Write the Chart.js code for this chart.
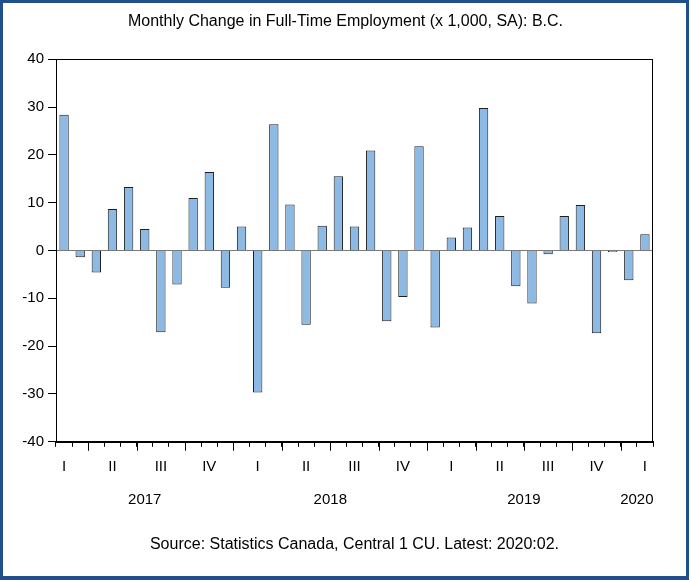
<!DOCTYPE html>
<html>
<head>
<meta charset="utf-8">
<script src="https://cdn.jsdelivr.net/npm/chart.js@4/dist/chart.umd.min.js"></script>
<style>
  html, body { margin: 0; padding: 0; background: #fff; }
  #wrap { position: relative; width: 691px; height: 581px; }
  #frame { position: absolute; left: 0; top: 0; width: 689px; height: 580px; box-sizing: border-box;
           border: 3px solid #214f8b; border-bottom-width: 4px; pointer-events: none; }
  canvas { position: absolute; left: 0; top: 0; }
</style>
</head>
<body>
<div id="wrap">
  <canvas id="c" width="691" height="581"></canvas>
  <div id="frame"></div>
</div>
<script>
// ---- data ----
const titleText = 'Monthly Change in Full-Time Employment (x 1,000, SA): B.C.';
const sourceText = 'Source: Statistics Canada, Central 1 CU. Latest: 2020:02.';
const periods = [
  '2017:02','2017:03','2017:04','2017:05','2017:06','2017:07','2017:08','2017:09','2017:10','2017:11','2017:12',
  '2018:01','2018:02','2018:03','2018:04','2018:05','2018:06','2018:07','2018:08','2018:09','2018:10','2018:11','2018:12',
  '2019:01','2019:02','2019:03','2019:04','2019:05','2019:06','2019:07','2019:08','2019:09','2019:10','2019:11','2019:12',
  '2020:01','2020:02'
];
const changes = [
  28.4, -1.4, -4.6, 8.7, 13.3, 4.5, -17.1, -7.1, 11.0, 16.4, -7.8,
  5.0, -29.7, 26.4, 9.6, -15.5, 5.2, 15.5, 5.0, 20.9, -14.8, -9.7, 21.8,
  -16.1, 2.7, 4.8, 29.8, 7.2, -7.5, -11.1, -0.8, 7.2, 9.5, -17.3, -0.3,
  -6.2, 3.4
];
const quarterLabels = ['I', 'II', 'III', 'IV'];
const yearLabels = ['2017', '2018', '2019', '2020'];
const yTicks = [-40, -30, -20, -10, 0, 10, 20, 30, 40];

// year label positions: centre of each year's months
const yearCenters = yearLabels.map(y => {
  const idx = periods.map((p, i) => p.startsWith(y) ? i : -1).filter(i => i >= 0);
  return (idx[0] + idx[idx.length - 1]) / 2;
});

const FONT = "'Liberation Sans', Arial, sans-serif";

const framePlugin = {
  id: 'framePlugin',
  afterDraw(chart) {
    const { ctx, chartArea: a, scales } = chart;
    ctx.save();
    ctx.strokeStyle = '#000';
    ctx.lineWidth = 1;
    ctx.strokeRect(Math.round(a.left) + 0.5, Math.round(a.top) + 0.5,
                   Math.round(a.right - a.left) - 1, Math.round(a.bottom - a.top));
    // long ticks at quarter boundaries
    const xs = scales.x;
    ctx.beginPath();
    periods.forEach((p, i) => {
      const m = +p.slice(5);
      if (i > 0 && m % 3 === 1) {
        const px = Math.round((xs.getPixelForValue(i - 1) + xs.getPixelForValue(i)) / 2) + 0.5;
        ctx.moveTo(px, a.bottom);
        ctx.lineTo(px, a.bottom + 9);
      }
    });
    ctx.stroke();
    ctx.restore();
  }
};

new Chart(document.getElementById('c'), {
  type: 'bar',
  data: {
    labels: periods,
    datasets: [{
      data: changes,
      backgroundColor: '#8db9e5',
      borderColor: '#1e1e1e',
      borderWidth: 1,
      barPercentage: 0.58,
      categoryPercentage: 1.0
    }]
  },
  options: {
    responsive: false,
    animation: false,
    layout: { padding: { left: 0, right: 0, top: 0, bottom: 0 } },
    plugins: {
      legend: { display: false },
      tooltip: { enabled: false },
      title: {
        display: true, text: titleText, color: '#000',
        font: { family: FONT, size: 16, weight: 'normal' },
        padding: { top: 12, bottom: 28 }
      },
      subtitle: {
        display: true, text: sourceText, position: 'bottom', color: '#000', fullSize: false,
        font: { family: FONT, size: 16, weight: 'normal' },
        padding: { top: 10, bottom: 27 }
      }
    },
    scales: {
      x: {
        type: 'category',
        position: 'bottom',
        offset: true,
        grid: { offset: true, drawOnChartArea: false, tickLength: 5, tickColor: '#000', color: '#000' },
        border: { color: '#000' },
        ticks: {
          autoSkip: false, maxRotation: 0, color: '#000', padding: 11,
          font: { family: FONT, size: 15 },
          callback: (v, i) => {
            const m = +periods[i].slice(5);
            return (m % 3 === 2) ? quarterLabels[(m - 2) / 3] : '';
          }
        },
        afterFit: s => { s.height = 35; }
      },
      years: {
        type: 'linear',
        position: 'bottom',
        offset: false,
        min: -0.5, max: periods.length - 0.5,
        grid: { display: false, drawTicks: false, offset: false },
        border: { display: false },
        afterBuildTicks: s => { s.ticks = yearCenters.map(v => ({ value: v })); },
        ticks: {
          color: '#000', padding: 14, maxRotation: 0, autoSkip: false,
          font: { family: FONT, size: 15 },
          callback: v => yearLabels[yearCenters.indexOf(v)]
        },
        afterFit: s => { s.height = 48; }
      },
      y: {
        min: -40, max: 40,
        afterBuildTicks: s => { s.ticks = yTicks.map(v => ({ value: v })); },
        grid: {
          drawOnChartArea: true,
          color: ctx => (ctx.tick && ctx.tick.value === 0) ? '#7a7a7a' : 'rgba(0,0,0,0)',
          tickColor: '#000', tickLength: 8
        },
        border: { color: '#000' },
        ticks: { color: '#000', padding: 4, font: { family: FONT, size: 15 } },
        afterFit: s => { s.width = 56; }
      },
      yRight: {
        type: 'linear',
        position: 'right',
        display: true,
        grid: { display: false, drawTicks: false },
        border: { display: false },
        ticks: { display: false },
        afterFit: s => { s.width = 38; }
      }
    }
  },
  plugins: [framePlugin]
});
</script>
</body>
</html>
